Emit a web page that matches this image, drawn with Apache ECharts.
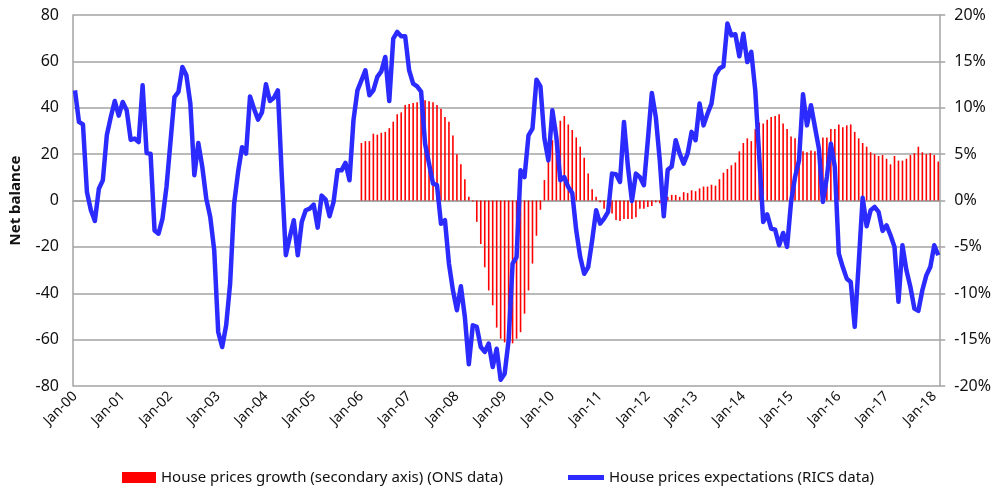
<!DOCTYPE html>
<html>
<head>
<meta charset="utf-8">
<script src="https://cdn.jsdelivr.net/npm/echarts/dist/echarts.min.js"></script>
<style>
  html, body { margin: 0; padding: 0; background: #fff; }
  #chart { width: 994px; height: 488px; }
</style>
</head>
<body>
<div id="chart"></div>
<script>
// monthly categories Jan-00 .. Feb-18
const monthNames = ['Jan', 'Feb', 'Mar', 'Apr', 'May', 'Jun', 'Jul', 'Aug', 'Sep', 'Oct', 'Nov', 'Dec']
const categories = []
for (let y = 0; y <= 18; y++) {
  for (let m = 0; m < 12; m++) {
    if (categories.length < 218) categories.push(monthNames[m] + '-' + String(y).padStart(2, '0'))
  }
}

// RICS house price expectations, net balance (left axis)
const expectations = [
  47.5, 33.9, 32.8, 3.7, -4.2, -8.8, 5.1, 8.7, 28.1, 36, 42.9, 36.6,
  42.5, 38.9, 26.2, 26.7, 25.2, 49.7, 20.5, 20.2, -12.9, -14.3, -7.8, 5.8,
  25.2, 44.6, 46.8, 57.6, 54, 41.8, 10.9, 24.8, 14.5, 0.8, -7.1, -21.5,
  -56.7, -63.2, -53.8, -35.8, -1.4, 12.3, 23, 20.2, 44.9, 39.6, 34.9, 38,
  50.1, 42.9, 44.3, 47.5, 10.1, -23.6, -15.7, -8.5, -23.6, -9.3, -4.2, -3.5,
  -1.8, -11.7, 2.1, 0.4, -6.8, -0.6, 13, 13, 16.2, 8.7, 34.6, 47.5,
  51.8, 56.1, 45.4, 47.5, 53.3, 55.7, 61.9, 42.9, 69.8, 72.7, 70.8, 70.8,
  56.1, 50.4, 49.2, 47, 24.5, 15.9, 7.3, 6.6, -10, -8.5, -27.2, -38.7,
  -47.3, -37, -50.2, -70.6, -53.8, -54.5, -63.2, -65.3, -61.7, -71.8, -63.9, -77.3,
  -74.7, -60.3, -27.2, -24.4, 13, 10.1, 28.1, 31, 52.1, 49.2, 26.7, 17.3,
  38.9, 27.4, 8.7, 10.1, 5.8, 3.2, -12.9, -24.4, -31.6, -28.7, -17.2, -4.2,
  -10, -7.8, -4.9, 11.6, 11.3, 8, 33.9, 14.5, -0.2, 11.6, 10.1, 6.6,
  26, 46.4, 36, 17.3, -6.8, 13.3, 14.7, 26, 20.2, 15.9, 20.2, 29.6,
  26, 41.8, 32.4, 37.4, 41.8, 54, 56.9, 57.9, 76.3, 71.2, 71.7, 62.2,
  71.9, 59.7, 64.1, 47.5, 18.8, -9.3, -6, -12.1, -12.6, -19.3, -14, -20,
  -0.6, 10.1, 17.3, 45.8, 32.4, 41.1, 31.7, 22.4, -0.6, 10.1, 24.5, 14.5,
  -22.9, -28.7, -33.7, -35.1, -54.5, -27.2, 1.2, -11.1, -4.2, -2.8, -4.9, -13.1,
  -10.7, -15, -20, -43.7, -19.3, -30.1, -37.3, -46.6, -47.6, -38.7, -32.3, -28.7,
  -19.3, -23.6
]

// ONS house price growth, % y/y (right axis), starts Jan-06
const growthFrom06 = [
  6.2, 6.4, 6.4, 7.2, 7.1, 7.3, 7.4, 7.8, 8.5, 9.3, 9.5, 10.3,
  10.4, 10.5, 10.6, 10.7, 10.8, 10.7, 10.6, 10.3, 9.9, 9.0, 8.5, 7.0,
  5.0, 3.9, 2.3, 0.4, -0.1, -2.3, -4.7, -7.2, -9.7, -11.3, -13.7, -14.9,
  -15.3, -15.3, -15.4, -14.9, -14.2, -12.2, -9.7, -6.8, -3.8, -1.0, 2.2, 4.3,
  6.5, 8.0, 8.6, 9.1, 8.2, 7.6, 6.8, 5.8, 4.6, 2.9, 1.2, 0.4,
  -0.2, -0.9, -1.1, -1.4, -2.1, -2.2, -2.0, -2.0, -2.0, -1.8, -0.9, -0.9,
  -0.7, -0.6, -0.2, -0.3, -0.1, 0.4, 0.6, 0.6, 0.4, 0.9, 0.8, 1.1,
  1.0, 1.3, 1.5, 1.5, 1.7, 1.6, 2.3, 3.0, 3.4, 3.8, 4.1, 5.3,
  6.2, 6.7, 6.4, 7.7, 8.4, 8.3, 8.7, 9.0, 9.1, 9.3, 8.3, 7.7,
  6.9, 6.7, 6.7, 5.3, 5.2, 5.4, 5.3, 5.8, 6.8, 6.8, 7.7, 7.7,
  8.2, 7.9, 8.1, 8.2, 7.4, 6.7, 6.2, 5.8, 5.2, 5.0, 4.8, 4.9,
  4.5, 3.9, 4.8, 4.3, 4.3, 4.5, 4.9, 5.1, 5.8, 5.2, 5.0, 5.1,
  4.9, 4.2
]
const growth = new Array(72).fill(null).concat(growthFrom06)

const leftTicks = { min: -80, max: 80, step: 20 }
const rightTicks = { min: -20, max: 20, step: 5 }

const barName = 'House prices growth (secondary axis) (ONS data)'
const lineName = 'House prices expectations (RICS data)'

const font = 'Noto Sans'
const gridGray = '#a3a3a3'
const legendText = { fontFamily: font, fontSize: 15, color: '#111' }

let myChart = echarts.init(document.getElementById('chart'))
let option = {
  animation: false,
  textStyle: { fontFamily: font },
  grid: { left: 72, right: 53, top: 15, bottom: 102 },
  legend: [
    {
      left: 117,
      top: 465,
      itemWidth: 34,
      itemHeight: 11,
      textStyle: legendText,
      data: [{ name: barName, icon: 'rect' }]
    },
    {
      left: 563,
      top: 465,
      itemWidth: 36,
      itemHeight: 5,
      textStyle: legendText,
      data: [{ name: lineName, icon: 'rect' }]
    }
  ],
  xAxis: {
    type: 'category',
    data: categories,
    boundaryGap: true,
    axisLine: { lineStyle: { color: gridGray, width: 1.5 } },
    axisTick: { show: false },
    axisLabel: {
      interval: (index) => index % 12 === 0,
      rotate: 45,
      margin: 8,
      fontSize: 14,
      color: '#111',
      fontFamily: font
    },
    splitLine: { show: false }
  },
  yAxis: [
    {
      type: 'value',
      min: leftTicks.min,
      max: leftTicks.max,
      interval: leftTicks.step,
      name: 'Net balance',
      nameLocation: 'middle',
      nameRotate: 90,
      nameGap: 50,
      nameTextStyle: { fontWeight: 'bold', fontSize: 15, color: '#111', fontFamily: font },
      axisLine: { show: true, lineStyle: { color: gridGray, width: 1.5 } },
      axisTick: { show: false },
      axisLabel: { margin: 14, fontSize: 16, color: '#111', fontFamily: font },
      splitLine: { lineStyle: { color: gridGray, width: 1.5 } }
    },
    {
      type: 'value',
      position: 'right',
      min: rightTicks.min,
      max: rightTicks.max,
      interval: rightTicks.step,
      axisLine: { show: true, lineStyle: { color: gridGray, width: 1.5 } },
      axisTick: { show: true, length: 5, lineStyle: { color: gridGray, width: 1.5 } },
      axisLabel: { margin: 14, fontSize: 16, color: '#111', fontFamily: font, formatter: '{value}%' },
      splitLine: { show: false }
    }
  ],
  series: [
    {
      name: barName,
      type: 'bar',
      yAxisIndex: 1,
      data: growth,
      barWidth: 1.6,
      itemStyle: { color: '#ff0000' }
    },
    {
      name: lineName,
      type: 'line',
      yAxisIndex: 0,
      data: expectations,
      symbol: 'none',
      showSymbol: false,
      z: 5,
      itemStyle: { color: '#2b2bff' },
      lineStyle: { color: '#2b2bff', width: 4.5, join: 'round' }
    }
  ]
}
myChart.setOption(option)
</script>
</body>
</html>
